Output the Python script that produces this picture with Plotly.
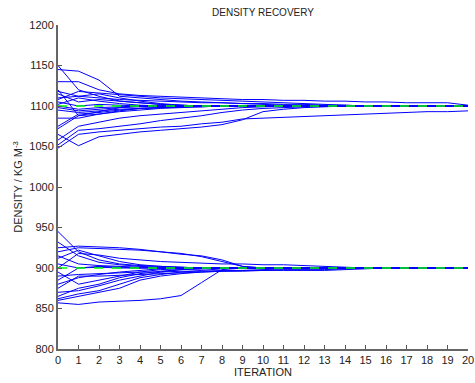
import plotly.graph_objects as go

iterations = list(range(21))

upper_runs = [
    [1150, 1120, 1112, 1106, 1104, 1102, 1101, 1100, 1100, 1100, 1100, 1100, 1100, 1100, 1100, 1100, 1100, 1100, 1100, 1100, 1100],
    [1145, 1143, 1132, 1112, 1110, 1108, 1106, 1105, 1104, 1103, 1102, 1101, 1100, 1100, 1100, 1100, 1100, 1100, 1100, 1100, 1100],
    [1130, 1130, 1120, 1115, 1113, 1112, 1111, 1110, 1109, 1108, 1108, 1107, 1107, 1106, 1106, 1105, 1105, 1104, 1104, 1104, 1101],
    [1120, 1088, 1093, 1098, 1100, 1100, 1100, 1100, 1100, 1100, 1100, 1100, 1100, 1100, 1100, 1100, 1100, 1100, 1100, 1100, 1100],
    [1118, 1112, 1115, 1110, 1106, 1103, 1101, 1100, 1100, 1100, 1100, 1100, 1100, 1100, 1100, 1100, 1100, 1100, 1100, 1100, 1100],
    [1115, 1105, 1108, 1106, 1104, 1102, 1101, 1100, 1100, 1100, 1100, 1100, 1100, 1100, 1100, 1100, 1100, 1100, 1100, 1100, 1100],
    [1108, 1118, 1116, 1114, 1112, 1110, 1109, 1108, 1107, 1106, 1105, 1104, 1103, 1102, 1101, 1100, 1100, 1100, 1100, 1100, 1100],
    [1105, 1100, 1102, 1101, 1100, 1100, 1100, 1100, 1100, 1100, 1100, 1100, 1100, 1100, 1100, 1100, 1100, 1100, 1100, 1100, 1100],
    [1102, 1110, 1106, 1103, 1101, 1100, 1100, 1100, 1100, 1100, 1100, 1100, 1100, 1100, 1100, 1100, 1100, 1100, 1100, 1100, 1100],
    [1100, 1096, 1098, 1099, 1100, 1100, 1100, 1100, 1100, 1100, 1100, 1100, 1100, 1100, 1100, 1100, 1100, 1100, 1100, 1100, 1100],
    [1098, 1094, 1096, 1098, 1099, 1100, 1100, 1100, 1100, 1100, 1100, 1100, 1100, 1100, 1100, 1100, 1100, 1100, 1100, 1100, 1100],
    [1095, 1092, 1094, 1096, 1097, 1098, 1099, 1099, 1100, 1100, 1100, 1100, 1100, 1100, 1100, 1100, 1100, 1100, 1100, 1100, 1100],
    [1085, 1085, 1090, 1094, 1097, 1098, 1099, 1100, 1100, 1100, 1100, 1100, 1100, 1100, 1100, 1100, 1100, 1100, 1100, 1100, 1100],
    [1075, 1090, 1092, 1095, 1097, 1098, 1099, 1100, 1100, 1100, 1100, 1100, 1100, 1100, 1100, 1100, 1100, 1100, 1100, 1100, 1100],
    [1048, 1065, 1068, 1070, 1072, 1074, 1075, 1078, 1080, 1084, 1085, 1086, 1087, 1088, 1089, 1090, 1091, 1092, 1093, 1093, 1094],
    [1065, 1051, 1062, 1065, 1068, 1070, 1072, 1074, 1077, 1083, 1093, 1096, 1098, 1099, 1100, 1100, 1100, 1100, 1100, 1100, 1100],
    [1052, 1070, 1072, 1075, 1078, 1082, 1085, 1088, 1092, 1095, 1097, 1098, 1099, 1100, 1100, 1100, 1100, 1100, 1100, 1100, 1100],
    [1058, 1075, 1080, 1085, 1088, 1090, 1092, 1094, 1096, 1098, 1099, 1100, 1100, 1100, 1100, 1100, 1100, 1100, 1100, 1100, 1100],
    [1072, 1088, 1090, 1093, 1095, 1097, 1098, 1099, 1100, 1100, 1100, 1100, 1100, 1100, 1100, 1100, 1100, 1100, 1100, 1100, 1100],
    [1110, 1112, 1110, 1108, 1107, 1106, 1105, 1104, 1104, 1103, 1103, 1102, 1102, 1101, 1101, 1100, 1100, 1100, 1100, 1100, 1100],
]

lower_runs = [
    [945, 920, 910, 905, 903, 902, 901, 900, 900, 900, 900, 900, 900, 900, 900, 900, 900, 900, 900, 900, 900],
    [932, 915, 907, 904, 902, 901, 900, 900, 900, 900, 900, 900, 900, 900, 900, 900, 900, 900, 900, 900, 900],
    [925, 927, 926, 925, 923, 920, 917, 915, 910, 902, 900, 900, 900, 900, 900, 900, 900, 900, 900, 900, 900],
    [920, 925, 924, 923, 922, 920, 918, 914, 908, 902, 900, 900, 900, 900, 900, 900, 900, 900, 900, 900, 900],
    [915, 905, 903, 902, 901, 900, 900, 900, 900, 900, 900, 900, 900, 900, 900, 900, 900, 900, 900, 900, 900],
    [912, 922, 915, 908, 904, 902, 901, 900, 900, 900, 900, 900, 900, 900, 900, 900, 900, 900, 900, 900, 900],
    [905, 900, 901, 900, 900, 900, 900, 900, 900, 900, 900, 900, 900, 900, 900, 900, 900, 900, 900, 900, 900],
    [900, 918, 916, 912, 910, 908, 907, 906, 905, 905, 904, 904, 903, 902, 901, 900, 900, 900, 900, 900, 900],
    [895, 880, 885, 890, 895, 898, 899, 900, 900, 900, 900, 900, 900, 900, 900, 900, 900, 900, 900, 900, 900],
    [885, 900, 902, 901, 900, 900, 900, 900, 900, 900, 900, 900, 900, 900, 900, 900, 900, 900, 900, 900, 900],
    [880, 888, 892, 895, 897, 899, 900, 900, 900, 900, 900, 900, 900, 900, 900, 900, 900, 900, 900, 900, 900],
    [875, 890, 890, 891, 892, 893, 894, 895, 896, 896, 897, 897, 897, 897, 898, 899, 900, 900, 900, 900, 900],
    [870, 872, 878, 885, 890, 895, 898, 899, 900, 900, 900, 900, 900, 900, 900, 900, 900, 900, 900, 900, 900],
    [865, 875, 880, 888, 893, 896, 898, 899, 900, 900, 900, 900, 900, 900, 900, 900, 900, 900, 900, 900, 900],
    [862, 868, 872, 880, 888, 892, 895, 897, 899, 900, 900, 900, 900, 900, 900, 900, 900, 900, 900, 900, 900],
    [860, 865, 870, 875, 885, 890, 893, 895, 896, 897, 898, 899, 900, 900, 900, 900, 900, 900, 900, 900, 900],
    [857, 855, 858, 859, 860, 862, 866, 882, 898, 900, 900, 900, 900, 900, 900, 900, 900, 900, 900, 900, 900],
    [890, 892, 893, 894, 895, 895, 896, 896, 897, 897, 897, 898, 898, 898, 899, 900, 900, 900, 900, 900, 900],
]

true_densities = [1100, 900]

x_ticks = list(range(0, 21))
y_ticks = [800, 850, 900, 950, 1000, 1050, 1100, 1150, 1200]

fig = go.Figure()
for run in upper_runs + lower_runs:
    fig.add_trace(go.Scatter(x=iterations, y=run, mode="lines",
                             line=dict(color="#0000ff", width=1),
                             showlegend=False, hoverinfo="skip", cliponaxis=False))
for d in true_densities:
    fig.add_trace(go.Scatter(x=[iterations[0], iterations[-1]], y=[d, d], mode="lines",
                             line=dict(color="#00ff00", width=1.5, dash="dash"),
                             showlegend=False, hoverinfo="skip"))

font_family = "Liberation Sans, Arial, sans-serif"
fig.update_layout(
    width=475, height=383,
    margin=dict(l=58, r=7, t=25, b=34, autoexpand=False),
    paper_bgcolor="white", plot_bgcolor="white",
    font=dict(family=font_family, size=11, color="#222222"),
    title=dict(text="DENSITY RECOVERY", x=263 / 475,
               xanchor="center", y=1 - 12 / 383, yanchor="middle",
               font=dict(size=10, family=font_family, color="#222222")),
    xaxis=dict(range=[0, 20], tickvals=x_ticks, ticks="inside", ticklen=4,
               tickcolor="#555555", showline=True, linecolor="#666666", linewidth=2,
               showgrid=False, zeroline=False, automargin=False,
               title=dict(text="ITERATION", standoff=2, font=dict(size=11))),
    yaxis=dict(range=[800, 1200], tickvals=y_ticks, ticks="inside", ticklen=4,
               tickcolor="#555555", showline=True, linecolor="#666666", linewidth=2,
               showgrid=False, zeroline=False, automargin=False,
               title=dict(text="DENSITY / KG M<sup>-3</sup>", standoff=4, font=dict(size=11))),
)

fig.write_html("out.html")
